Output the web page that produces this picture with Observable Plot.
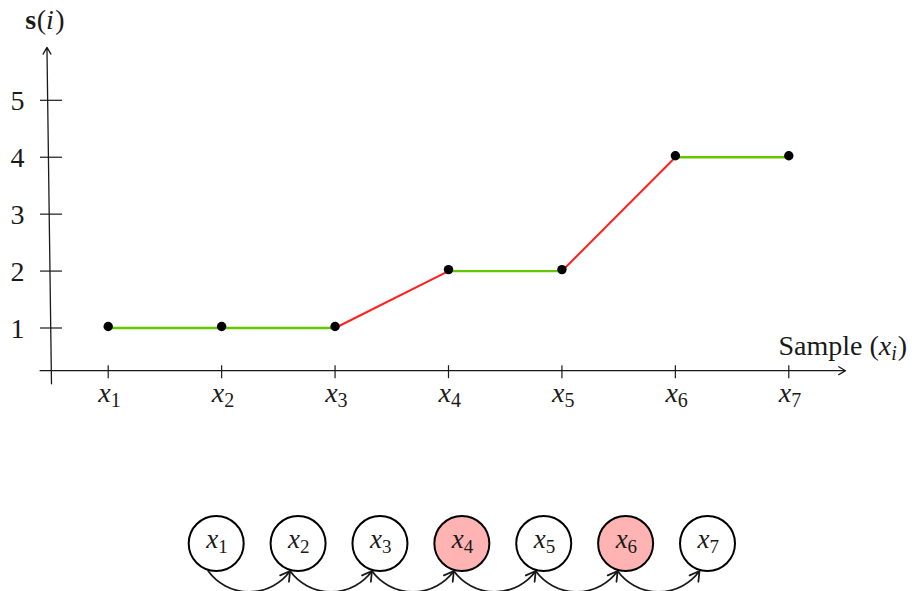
<!DOCTYPE html>
<html><head><meta charset="utf-8">
<script src="https://cdn.jsdelivr.net/npm/d3@7"></script>
<script src="https://cdn.jsdelivr.net/npm/@observablehq/plot@0.6"></script>
<style>body{margin:0;background:#fff;} #chart svg{display:block;}</style>
</head><body><div id="chart"></div>
<script>
// ---- data ----
const samples = [1, 2, 3, 4, 5, 6, 7];
const sampleSubs = ["1", "2", "3", "4", "5", "6", "7"];
const scores = [1, 1, 1, 2, 2, 4, 4];
const yTicks = [1, 2, 3, 4, 5];
const xAxisExtent = [0.4, 7.5];
const xAxisBase = 0.25;
const yAxisStart = [0.5, 0.02];
const yAxisEnd = [0.46, 5.93];
const yTickX = 0.5;
const xTitleParts = ["Sample (", "x", "i", ")"];
const yTitleParts = ["s", "(", "i", ")"];
const varName = "x";

// ---- style ----
const FONT = "Liberation Serif";
const MAIN = 28, SUB = 20;
const GREEN = "#62c600", RED = "#ff1f1f", INK = "#1a1a1a", PINK = "#ffb3b3";
const ctx = document.createElement("canvas").getContext("2d");
function tw(str, size, style = "normal", weight = "normal") {
  ctx.font = `${style} ${weight} ${size}px "${FONT}"`;
  return ctx.measureText(str).width;
}

const points = samples.map((s, i) => ({s, v: scores[i], sub: sampleSubs[i]}));
const segments = d3.pairs(points).map(([a, b]) => ({x1: a.s, y1: a.v, x2: b.s, y2: b.v, rising: b.v > a.v}));
const nodes = points.map((p, i) => ({...p, hot: i > 0 && p.v > points[i - 1].v}));
const edges = d3.pairs(nodes).map(([a, b]) => ({from: a.s, to: b.s}));

function piece(t, x, y, o) {
  return Plot.text([t], {x: () => x, y: () => y, text: d => d, textAnchor: "start", lineAnchor: "bottom",
    fontFamily: FONT, fill: INK, ...o});
}

// x title pieces (anchored at right end of x axis)
const xdx0 = -67;
const xdx1 = xdx0 + tw(xTitleParts[0], MAIN);
const xdx2 = xdx1 + tw(xTitleParts[1], MAIN, "italic");
const xdx3 = xdx2 + tw(xTitleParts[2], SUB, "italic") + 1;
// y title pieces (anchored at top of y axis)
const ydx0 = -21.7;
const ydx1 = ydx0 + tw(yTitleParts[0], MAIN, "normal", "bold") + 0.5;
const ydx2 = ydx1 + tw(yTitleParts[1], MAIN);
const ydx3 = ydx2 + tw(yTitleParts[2], MAIN, "italic") + 1.5;

const main = Plot.plot({
  width: 912, height: 470,
  x: {domain: [1, 7], range: [107.7, 788.3], axis: null},
  y: {domain: [1, 5], range: [327.5, 99.8], axis: null},
  style: {fontFamily: FONT, background: "white"},
  marks: [
    Plot.arrow([0], {x1: () => xAxisExtent[0], x2: () => xAxisExtent[1], y1: () => xAxisBase, y2: () => xAxisBase,
      stroke: INK, strokeWidth: 1.3, headLength: 9, headAngle: 60}),
    Plot.arrow([0], {x1: () => yAxisStart[0], y1: () => yAxisStart[1], x2: () => yAxisEnd[0], y2: () => yAxisEnd[1],
      stroke: INK, strokeWidth: 1.3, headLength: 9, headAngle: 60}),
    Plot.ruleX(samples, {x: d => d, y1: () => xAxisBase, y2: () => xAxisBase, insetTop: -5, insetBottom: -8, stroke: INK, strokeWidth: 1.2}),
    Plot.ruleY(yTicks, {y: d => d, x1: () => yTickX, x2: () => yTickX, insetLeft: -11, insetRight: -11, stroke: INK, strokeWidth: 1.2}),
    Plot.text(yTicks, {x: () => yTickX, y: d => d, text: d => String(d), textAnchor: "end", dx: -27, dy: 1, fontSize: MAIN, fill: INK}),
    Plot.text(points, {x: "s", y: () => xAxisBase, text: () => varName, textAnchor: "end", lineAnchor: "bottom", dx: 2.5, dy: 31.7,
      fontSize: MAIN, fontStyle: "italic", fill: INK}),
    Plot.text(points, {x: "s", y: () => xAxisBase, text: "sub", textAnchor: "start", lineAnchor: "bottom", dx: 2.5, dy: 36.7,
      fontSize: SUB, fill: INK}),
    piece(xTitleParts[0], xAxisExtent[1], xAxisBase, {dx: xdx0, dy: -15.5, fontSize: MAIN}),
    piece(xTitleParts[1], xAxisExtent[1], xAxisBase, {dx: xdx1, dy: -15.5, fontSize: MAIN, fontStyle: "italic"}),
    piece(xTitleParts[2], xAxisExtent[1], xAxisBase, {dx: xdx2, dy: -11, fontSize: SUB, fontStyle: "italic"}),
    piece(xTitleParts[3], xAxisExtent[1], xAxisBase, {dx: xdx3, dy: -15.5, fontSize: MAIN}),
    piece(yTitleParts[0], yAxisEnd[0], yAxisEnd[1], {dx: ydx0, dy: -18.4, fontSize: MAIN, fontWeight: "bold"}),
    piece(yTitleParts[1], yAxisEnd[0], yAxisEnd[1], {dx: ydx1, dy: -18.4, fontSize: MAIN}),
    piece(yTitleParts[2], yAxisEnd[0], yAxisEnd[1], {dx: ydx2, dy: -18.4, fontSize: MAIN, fontStyle: "italic"}),
    piece(yTitleParts[3], yAxisEnd[0], yAxisEnd[1], {dx: ydx3, dy: -18.4, fontSize: MAIN}),
    Plot.link(segments.filter(d => !d.rising), {x1: "x1", y1: "y1", x2: "x2", y2: "y2", stroke: GREEN, strokeWidth: 2.3}),
    Plot.link(segments.filter(d => d.rising), {x1: "x1", y1: "y1", x2: "x2", y2: "y2", stroke: RED, strokeWidth: 2}),
    Plot.dot(points, {x: "s", y: "v", r: 4.7, fill: "black", dy: -1.5})
  ]
});

const chain = Plot.plot({
  width: 912, height: 121,
  x: {domain: [1, 7], range: [215.7, 707], axis: null},
  y: {domain: [0, 1], range: [73, 100.5], axis: null},
  style: {fontFamily: FONT, background: "white"},
  marks: [
    Plot.arrow(edges, {x1: "from", x2: "to", y1: () => 1, y2: () => 1, bend: -54, dx: -8,
      stroke: INK, strokeWidth: 1.8, headLength: 9, headAngle: 60}),
    Plot.dot(nodes, {x: "s", y: () => 0, r: 27.5, fill: d => d.hot ? PINK : "white", stroke: "black", strokeWidth: 2}),
    Plot.text(nodes, {x: "s", y: () => 0, text: () => varName, textAnchor: "end", lineAnchor: "bottom", dx: 2, dy: 4,
      fontSize: 27, fontStyle: "italic", fill: INK}),
    Plot.text(nodes, {x: "s", y: () => 0, text: "sub", textAnchor: "start", lineAnchor: "bottom", dx: 2, dy: 9.5,
      fontSize: 19, fill: INK})
  ]
});

document.getElementById("chart").append(main, chain);
</script>
</body></html>
